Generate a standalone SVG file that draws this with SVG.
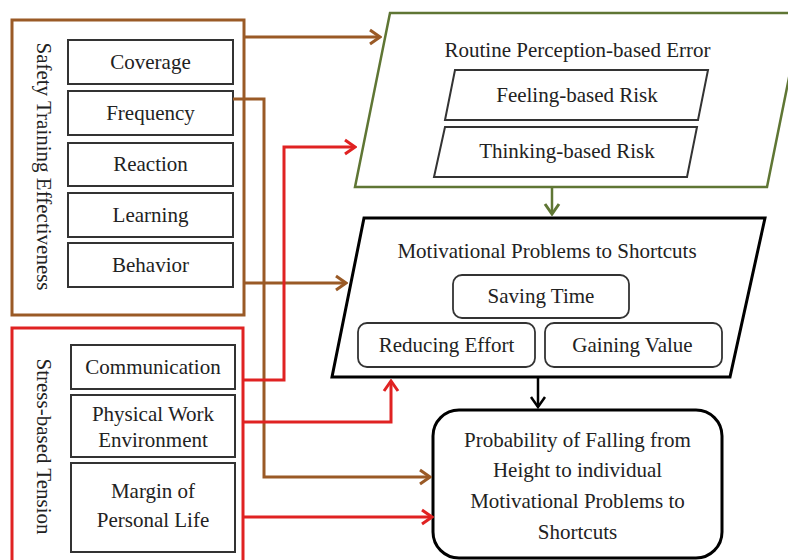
<svg xmlns="http://www.w3.org/2000/svg" width="788" height="560" viewBox="0 0 788 560">
<style>
text{font-family:"Liberation Serif","Times New Roman",serif;font-size:21px;fill:#222;text-anchor:middle}
.box{fill:#fff;stroke:#333;stroke-width:2}
.rbox{fill:#fff;stroke:#333;stroke-width:1.8}
.brown{fill:none;stroke:#9A5A26;stroke-width:3}
.red{fill:none;stroke:#E02222;stroke-width:3}
.green{fill:none;stroke:#5F7634;stroke-width:2.5}
.blk{fill:none;stroke:#000;stroke-width:2.5}
</style>
<defs>
<marker id="ab" markerUnits="userSpaceOnUse" viewBox="0 0 14 18" markerWidth="14" markerHeight="18" refX="12" refY="9" orient="auto"><path d="M2,2 L12,9 L2,16" fill="none" stroke="#9A5A26" stroke-width="3"/></marker>
<marker id="ar" markerUnits="userSpaceOnUse" viewBox="0 0 14 18" markerWidth="14" markerHeight="18" refX="12" refY="9" orient="auto"><path d="M2,2 L12,9 L2,16" fill="none" stroke="#E02222" stroke-width="3"/></marker>
<marker id="ag" markerUnits="userSpaceOnUse" viewBox="0 0 14 18" markerWidth="14" markerHeight="18" refX="12" refY="9" orient="auto"><path d="M2,2 L12,9 L2,16" fill="none" stroke="#5F7634" stroke-width="3"/></marker>
<marker id="ak" markerUnits="userSpaceOnUse" viewBox="0 0 14 18" markerWidth="14" markerHeight="18" refX="12" refY="9" orient="auto"><path d="M2,2 L12,9 L2,16" fill="none" stroke="#000" stroke-width="2.5"/></marker>
</defs>
<rect width="788" height="560" fill="#fff"/>

<g id="safety-training">
<rect x="12" y="20" width="232" height="295" fill="#fff" stroke="#9A5A26" stroke-width="3"/>
<text transform="translate(37,166.5) rotate(90)">Safety Training Effectiveness</text>
</g>
<g id="coverage"><rect class="box" x="68" y="40" width="165" height="44"/><text x="150.5" y="69">Coverage</text></g>
<g id="frequency"><rect class="box" x="68" y="91" width="165" height="44"/><text x="150.5" y="120">Frequency</text></g>
<g id="reaction"><rect class="box" x="68" y="143" width="165" height="43"/><text x="150.5" y="171">Reaction</text></g>
<g id="learning"><rect class="box" x="68" y="193" width="165" height="44"/><text x="150.5" y="222">Learning</text></g>
<g id="behavior"><rect class="box" x="68" y="243" width="165" height="44"/><text x="150.5" y="272">Behavior</text></g>

<g id="stress-tension">
<rect x="12" y="328" width="231" height="240" fill="#fff" stroke="#E02222" stroke-width="3"/>
<text transform="translate(37,446.5) rotate(90)">Stress-based Tension</text>
</g>
<g id="communication"><rect class="box" x="71" y="345" width="164" height="44"/><text x="153" y="374">Communication</text></g>
<g id="physical-work"><rect class="box" x="71" y="395" width="164" height="62"/><text x="153" y="421">Physical Work</text><text x="153" y="447">Environment</text></g>
<g id="margin-life"><rect class="box" x="71" y="463" width="164" height="89"/><text x="153" y="498">Margin of</text><text x="153" y="527">Personal Life</text></g>

<g id="routine-error">
<polygon points="390,13 802,13 767,187 355,187" fill="#fff" stroke="#5F7634" stroke-width="2.5"/>
<text x="577.5" y="57">Routine Perception-based Error</text>
</g>
<g id="feeling-risk"><polygon class="box" points="455,70 708,70 698,120 445,120"/><text x="577" y="102">Feeling-based Risk</text></g>
<g id="thinking-risk"><polygon class="box" points="445,127 697,127 687,177 434,177"/><text x="567" y="158">Thinking-based Risk</text></g>

<g id="motivational">
<polygon points="364,218 765,218 730,377 332,377" fill="#fff" stroke="#000" stroke-width="3"/>
<text x="547" y="258">Motivational Problems to Shortcuts</text>
</g>
<g id="saving-time"><rect class="rbox" x="453" y="275" width="176" height="43" rx="9"/><text x="541" y="303">Saving Time</text></g>
<g id="reducing-effort"><rect class="rbox" x="358" y="323" width="177" height="44" rx="9"/><text x="446.5" y="352">Reducing Effort</text></g>
<g id="gaining-value"><rect class="rbox" x="545" y="323" width="177" height="44" rx="9"/><text x="632.5" y="352">Gaining Value</text></g>

<g id="probability">
<rect x="433" y="410" width="289" height="148" rx="26" fill="#fff" stroke="#000" stroke-width="3"/>
<text x="577.5" y="447">Probability of Falling from</text>
<text x="577.5" y="477">Height to individual</text>
<text x="577.5" y="508">Motivational Problems to</text>
<text x="577.5" y="539">Shortcuts</text>
</g>

<g id="connectors">
<path class="brown" d="M244,37 H380" marker-end="url(#ab)"/>
<path class="brown" d="M233,99 H264 V477 H430" marker-end="url(#ab)"/>
<path class="brown" d="M244,283 H346" marker-end="url(#ab)"/>
<path class="red" d="M243,380 H284 V147 H355" marker-end="url(#ar)"/>
<path class="red" d="M243,422 H391 V381" marker-end="url(#ar)"/>
<path class="red" d="M243,517 H432" marker-end="url(#ar)"/>
<path class="green" d="M552,187 V214" marker-end="url(#ag)"/>
<path class="blk" d="M538,377 V407" marker-end="url(#ak)"/>
</g>
</svg>
